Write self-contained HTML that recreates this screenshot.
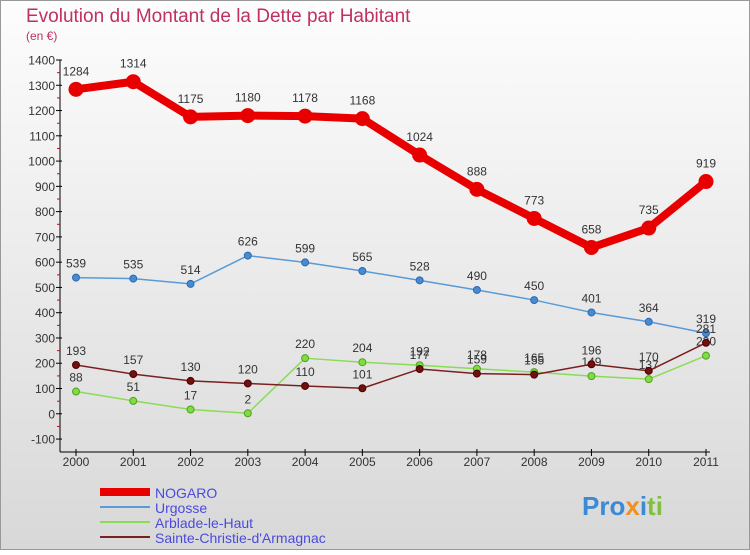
<!DOCTYPE html>
<html><head><meta charset="utf-8"><style>
body{margin:0}
svg{font-family:"Liberation Sans",sans-serif}
</style></head><body>
<svg width="750" height="550" xmlns="http://www.w3.org/2000/svg">
<defs><linearGradient id="bg" x1="0" y1="0" x2="0" y2="1"><stop offset="0" stop-color="#fdfdfd"/><stop offset="1" stop-color="#d8d8d8"/></linearGradient></defs>
<rect x="0.5" y="0.5" width="749" height="549" fill="url(#bg)" stroke="#999"/>
<text x="26" y="22" font-size="19" fill="#c03060">Evolution du Montant de la Dette par Habitant</text>
<text x="26" y="40" font-size="12" fill="#c03060">(en €)</text>
<g id="axes"></g>
<g id="series"></g>
<g>
<line x1="100" y1="492" x2="150" y2="492" stroke="#e80000" stroke-width="8"/>
<text x="155" y="498" font-size="14" fill="#4a4adf">NOGARO</text>
<line x1="100" y1="507" x2="150" y2="507" stroke="#5a9ad6" stroke-width="2"/>
<text x="155" y="513" font-size="14" fill="#4a4adf">Urgosse</text>
<line x1="100" y1="522" x2="150" y2="522" stroke="#88dd55" stroke-width="2"/>
<text x="155" y="528" font-size="14" fill="#4a4adf">Arblade-le-Haut</text>
<line x1="100" y1="537" x2="150" y2="537" stroke="#7a2020" stroke-width="2"/>
<text x="155" y="543" font-size="14" fill="#4a4adf">Sainte-Christie-d'Armagnac</text>
</g>
<text x="582" y="515" font-size="26" font-weight="bold"><tspan fill="#3a8ad6">Pro</tspan><tspan fill="#f09020">x</tspan><tspan fill="#3a8ad6">i</tspan><tspan fill="#80c040">ti</tspan></text>
</svg>
<script>
const years=[2000,2001,2002,2003,2004,2005,2006,2007,2008,2009,2010,2011];
const yTicks=[-100,0,100,200,300,400,500,600,700,800,900,1000,1100,1200,1300,1400];
const nogaro=[1284,1314,1175,1180,1178,1168,1024,888,773,658,735,919];
const urgosse=[539,535,514,626,599,565,528,490,450,401,364,319];
const arblade=[88,51,17,2,220,204,192,178,165,149,137,230];
const sainte=[193,157,130,120,110,101,177,159,155,196,170,281];
const NS="http://www.w3.org/2000/svg";
const xS=i=>76+i*(630/11);
const yS=v=>60+(1400-v)*0.2527;
function mk(t,a,p){const e=document.createElementNS(NS,t);for(const k in a)e.setAttribute(k,a[k]);p.appendChild(e);return e;}
const ax=document.getElementById('axes');
let l=mk('line',{x1:60,y1:60,x2:60,y2:452,stroke:'#000'},ax);


l=mk('line',{x1:60,y1:452,x2:710,y2:452,stroke:'#000'},ax);


yTicks.forEach(v=>{const y=yS(v);mk('line',{x1:56,y1:y,x2:62,y2:y,stroke:'#000'},ax);
if(v<1400)mk('line',{x1:57,y1:y-12.6,x2:60,y2:y-12.6,stroke:'#e00000'},ax);
const t=mk('text',{x:55,y:y+4.5,'text-anchor':'end','font-size':12,fill:'#333'},ax);t.textContent=v;

});
years.forEach((yr,i)=>{const x=xS(i);mk('line',{x1:x,y1:449,x2:x,y2:456,stroke:'#000'},ax);
const t=mk('text',{x:x,y:466,'text-anchor':'middle','font-size':12,fill:'#333'},ax);t.textContent=yr;

});
const sg=document.getElementById('series');
function series(d,col,w,r,name,fill,stroke,off){const g=mk('g',{},sg);


const p=mk('polyline',{points:d.map((v,i)=>xS(i)+','+yS(v)).join(' '),fill:'none',stroke:col,'stroke-width':w,'stroke-linejoin':'round'},g);


d.forEach((v,i)=>{const c=mk('circle',{cx:xS(i),cy:yS(v),r:r,fill:fill,stroke:stroke,'stroke-width':1},g);


const t=mk('text',{x:xS(i),y:yS(v)-off,'text-anchor':'middle','font-size':12,fill:'#333'},g);t.textContent=v;

});}
series(urgosse,'#5a9ad6',1.5,3.5,'urgosse','#4a8ad0','#2a6ab0',10);
series(arblade,'#88dd55',1.5,3.5,'arblade','#80dd40','#50a020',10);
series(sainte,'#7a2020',1.5,3.5,'sainte','#701010','#500000',10);
series(nogaro,'#e80000',8,7,'nogaro','#e80000','#e80000',14);
</script>
</body></html>
